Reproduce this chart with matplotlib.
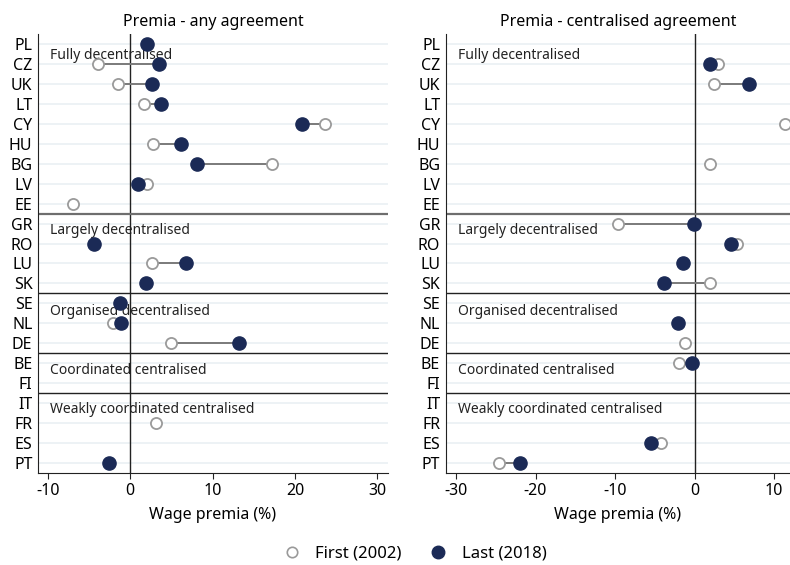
import matplotlib
matplotlib.use("Agg")
import matplotlib.pyplot as plt
from matplotlib.lines import Line2D
import numpy as np

plt.rcParams['font.family'] = ['Noto Sans', 'DejaVu Sans']

countries = ["PL", "CZ", "UK", "LT", "CY", "HU", "BG", "LV", "EE",
             "GR", "RO", "LU", "SK",
             "SE", "NL", "DE",
             "BE", "FI",
             "IT", "FR", "ES", "PT"]
groups = ["Fully decentralised", "Largely decentralised", "Organised decentralised",
          "Coordinated centralised", "Weakly coordinated centralised"]
group_sizes = [9, 4, 3, 2, 4]

nan = np.nan
# Premia - any agreement
any_first = [nan, -3.9, -1.5, 1.7, 23.6, 2.8, 17.2, 2.0, -7.0,
             nan, nan, 2.7, nan,
             nan, -2.15, 5.0,
             nan, nan,
             nan, 3.1, nan, nan]
any_last = [2.0, 3.5, 2.7, 3.7, 20.8, 6.2, 8.1, 1.0, nan,
            nan, -4.4, 6.8, 1.95,
            -1.2, -1.1, 13.2,
            nan, nan,
            nan, nan, nan, -2.6]
# Premia - centralised agreement
cen_first = [nan, 2.9, 2.5, nan, 11.4, nan, 2.0, nan, nan,
             -9.6, 5.3, nan, 1.9,
             nan, nan, -1.2,
             -1.9, nan,
             nan, nan, -4.2, -24.6]
cen_last = [nan, 1.9, 6.9, nan, nan, nan, nan, nan, nan,
            -0.1, 4.6, -1.45, -3.9,
            nan, -2.1, nan,
            -0.3, nan,
            nan, nan, -5.5, -21.9]

titles = ["Premia - any agreement", "Premia - centralised agreement"]
xticks_list = [[-10, 0, 10, 20, 30], [-30, -20, -10, 0, 10]]
xlims = [(-11.2, 31.3), (-31.3, 12.0)]

NAVY = "#1b2a56"
GRAY = "#9a9a9a"
LINE = "#7a7a7a"
GRID = "#eaf0f3"

fig = plt.figure(figsize=(7.9, 5.65), dpi=100)
axes = [fig.add_axes([38/790, 92/565, 350/790, 439/565]),
        fig.add_axes([445.7/790, 92/565, 344.3/790, 439/565])]

label_offsets = [0.6, 0.35, 0.42, 0.35, 0.3]

data = [(any_first, any_last), (cen_first, cen_last)]
y = np.arange(len(countries))
for ax, (first, last), title, xt, xl in zip(axes, data, titles, xticks_list, xlims):
    first = np.array(first, dtype=float)
    last = np.array(last, dtype=float)
    ax.set_xlim(*xl)
    ax.set_ylim(len(countries) - 0.5, -0.5)
    for yi in y:
        ax.axhline(yi, color=GRID, lw=1.2, zorder=0)
    ax.axvline(0, color="#222222", lw=1.0, zorder=1)
    # separators
    cum = np.cumsum(group_sizes)[:-1]
    for k, c in enumerate(cum):
        ax.axhline(c - 0.5, color="#6e6e6e" if k == 0 else "#222222",
                   lw=1.6 if k == 0 else 1.0, zorder=1)
    # group labels
    starts = np.concatenate([[0], cum])
    for g, s, off in zip(groups, starts, label_offsets):
        ax.text(xl[0] + 0.035 * (xl[1] - xl[0]), s + off, g, fontsize=10,
                color="#222222", va="center", ha="left", zorder=2)
    # connecting lines
    for yi, f, l in zip(y, first, last):
        if not np.isnan(f) and not np.isnan(l):
            ax.plot([f, l], [yi, yi], color=LINE, lw=1.4, zorder=3)
    ax.plot(first, y, "o", ms=8, mfc="white", mec=GRAY, mew=1.3, ls="none",
            zorder=4, clip_on=False)
    ax.plot(last, y, "o", ms=9.5, mfc=NAVY, mec=NAVY, ls="none", zorder=5,
            clip_on=False)
    ax.set_yticks(y)
    ax.set_yticklabels(countries, fontsize=11.5)
    ax.set_xticks(xt)
    ax.set_xticklabels([str(v) for v in xt], fontsize=11.5)
    ax.set_xlabel("Wage premia (%)", fontsize=11.5, labelpad=6)
    ax.set_title(title, fontsize=11.5, pad=6)
    for sp in ["top", "right"]:
        ax.spines[sp].set_visible(False)
    ax.spines["left"].set_color("#222222")
    ax.spines["bottom"].set_color("#222222")
    ax.tick_params(axis="y", length=0, pad=4)
    ax.tick_params(axis="x", length=4, color="#222222", pad=3)

handles = [Line2D([], [], marker="o", ls="none", ms=7.5, mfc="white", mec=GRAY, mew=1.2),
           Line2D([], [], marker="o", ls="none", ms=9, mfc=NAVY, mec=NAVY)]
fig.legend(handles, ["First (2002)", "Last (2018)"], loc="center",
           bbox_to_anchor=(411/790, 1 - 554/565), ncol=2, frameon=False,
           fontsize=12, handletextpad=0.4, columnspacing=1.2)

fig.savefig("out.png", dpi=100)
